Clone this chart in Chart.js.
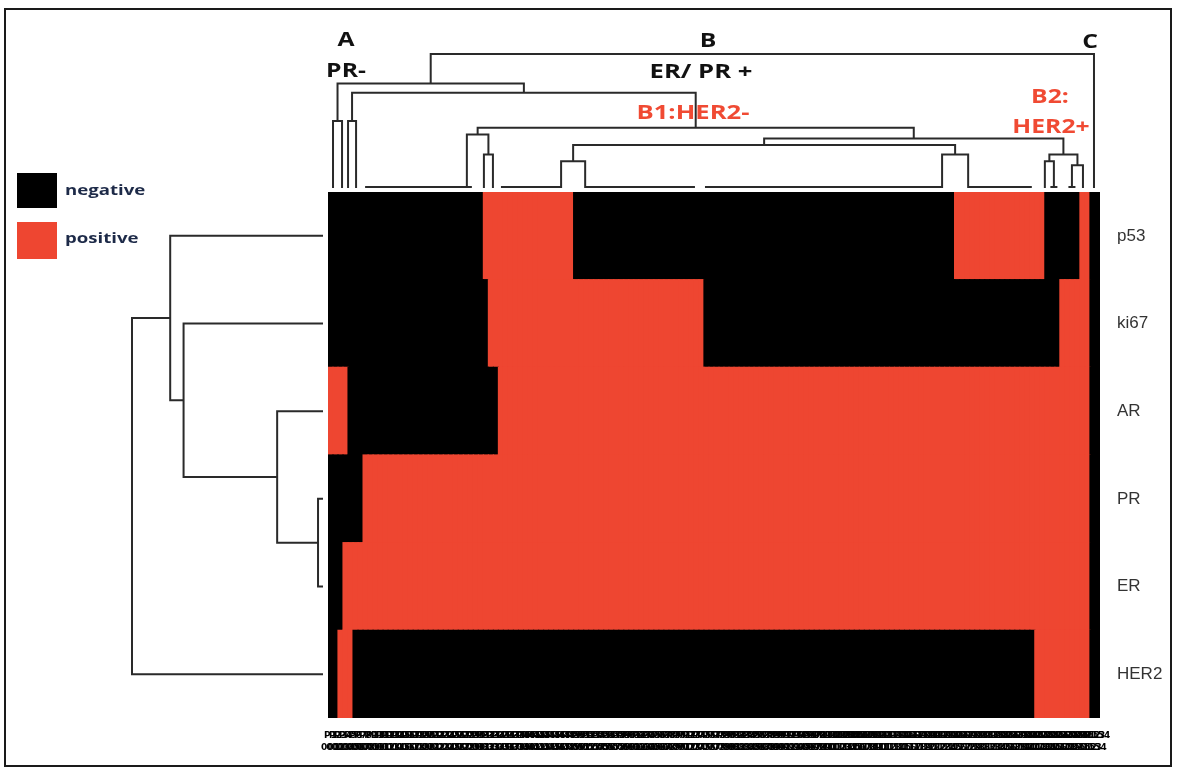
<!DOCTYPE html>
<html>
<head>
<meta charset="utf-8">
<title>Marker heatmap</title>
<style>
  html, body { margin: 0; padding: 0; background: #fff; }
  #wrap { width: 1177px; height: 771px; }
</style>
</head>
<body>
<div id="wrap"><canvas id="heat" width="1177" height="771"></canvas></div>
<script src="https://cdn.jsdelivr.net/npm/chart.js@4.4.1/dist/chart.umd.min.js"></script>
<script>
// ---- data: marker status per sample, as runs of [status, count] (0 = negative, 1 = positive)
const nSamples = 154;
const p53Runs  = [[0, 31], [1, 18], [0, 76], [1, 18], [0, 7], [1, 2], [0, 2]];
const ki67Runs = [[0, 32], [1, 43], [0, 71], [1, 6], [0, 2]];
const arRuns   = [[1, 4], [0, 30], [1, 118], [0, 2]];
const prRuns   = [[0, 7], [1, 145], [0, 2]];
const erRuns   = [[0, 3], [1, 149], [0, 2]];
const her2Runs = [[0, 2], [1, 3], [0, 136], [1, 11], [0, 2]];

// rows from bottom to top (stack order)
const markers = ["HER2", "ER", "PR", "AR", "ki67", "p53"];
const markerRuns = [her2Runs, erRuns, prRuns, arRuns, ki67Runs, p53Runs];

const sampleIds = Array.from({ length: nSamples }, (_, i) => i + 1);
const sampleLabels = sampleIds.map(n => ["P" + n, String(n).padStart(3, "0")]);

// column dendrogram: leaves / flat groups (x in column units), then merges [a, b, height]
const colNodes = [
    { x: 0.5 }, { x: 2.3 }, { x: 3.5 }, { x: 5.1 },
    { x: 27.2, from: 6.9, to: 28.2 },
    { x: 30.6 }, { x: 32.4 },
    { x: 46.0, from: 34.0, to: 46.0 },
    { x: 50.8, from: 50.8, to: 72.7 },
    { x: 122.0, from: 74.7, to: 122.0 },
    { x: 127.2, from: 127.2, to: 139.9 },
    { x: 142.5 },
    { x: 144.3, from: 143.6, to: 145.0 },
    { x: 147.9, from: 147.2, to: 148.6 },
    { x: 150.1 },
    { x: 152.3 }
];
const colMerges = [
    [0, 1, 0.50],    // 16
    [2, 3, 0.50],    // 17
    [5, 6, 0.25],    // 18
    [4, 18, 0.40],   // 19
    [7, 8, 0.20],    // 20
    [9, 10, 0.25],   // 21
    [20, 21, 0.32],  // 22
    [11, 12, 0.20],  // 23
    [13, 14, 0.17],  // 24
    [23, 24, 0.25],  // 25
    [22, 25, 0.37],  // 26
    [19, 26, 0.45],  // 27
    [17, 27, 0.71],  // 28
    [16, 28, 0.78],  // 29
    [29, 15, 1.00]   // 30
];

// row dendrogram: leaves are the marker rows (stack index), merges [a, b, height]
const rowMerges = [
    [1, 2, 0.026],   // ER + PR
    [3, 6, 0.24],    // AR
    [4, 7, 0.73],    // ki67
    [5, 8, 0.80],    // p53
    [0, 9, 1.00]     // HER2
];

const NEG = "#000000";
const POS = "#ee4631";
const LINE = "#2a2a2a";

function expand(runs) {
    const out = [];
    runs.forEach(([v, n]) => { for (let i = 0; i < n; i++) out.push(v); });
    return out;
}

// ---------------------------------------------------
// DENDROGRAM HELPERS
// ---------------------------------------------------
function buildTree(leafPos, merges) {
    const pos = leafPos.slice();
    const h = leafPos.map(() => 0);
    merges.forEach(([a, b, hh]) => {
        pos.push((pos[a] + pos[b]) / 2);
        h.push(hh);
    });
    return { pos, h };
}

function drawTree(ctx, tree, merges, toPx) {
    merges.forEach(([a, b, hh]) => {
        const p = toPx(tree.pos[a], tree.h[a]);
        const q = toPx(tree.pos[b], tree.h[b]);
        const pm = toPx(tree.pos[a], hh);
        const qm = toPx(tree.pos[b], hh);
        ctx.beginPath();
        ctx.moveTo(p[0], p[1]);
        ctx.lineTo(pm[0], pm[1]);
        ctx.lineTo(qm[0], qm[1]);
        ctx.lineTo(q[0], q[1]);
        ctx.stroke();
    });
}

function stretchText(ctx, text, x, y, sx, color, font) {
    ctx.save();
    ctx.translate(x, y);
    ctx.scale(sx, 1);
    ctx.fillStyle = color;
    ctx.font = font;
    ctx.textAlign = "center";
    ctx.textBaseline = "middle";
    ctx.fillText(text, 0, 0);
    ctx.restore();
}

const extrasPlugin = {
    id: "extras",
    afterDraw(chart) {
        const ctx = chart.ctx;
        const area = chart.chartArea;
        const xs = chart.scales.x;
        const ys = chart.scales.y;

        ctx.save();
        ctx.strokeStyle = LINE;
        ctx.lineWidth = 2;
        ctx.lineCap = "butt";

        // column dendrogram
        const topBase = area.top - 4;
        const topSpan = 134;
        const colTree = buildTree(colNodes.map(n => n.x), colMerges);
        drawTree(ctx, colTree, colMerges, (v, h) => [xs.getPixelForValue(v), topBase - h * topSpan]);
        colNodes.forEach(n => {
            if (n.from === undefined) return;
            ctx.beginPath();
            ctx.moveTo(xs.getPixelForValue(n.from), topBase - 1);
            ctx.lineTo(xs.getPixelForValue(n.to), topBase - 1);
            ctx.stroke();
        });

        // row dendrogram
        const leftBase = area.left - 5;
        const leftSpan = 191;
        const rowTree = buildTree(markers.map((m, k) => k + 0.5), rowMerges);
        drawTree(ctx, rowTree, rowMerges, (v, h) => [leftBase - h * leftSpan, ys.getPixelForValue(v)]);
        ctx.restore();

        // cluster labels
        const bold = "bold 19px 'Open Sans'";
        stretchText(ctx, "A", 346, 41, 1.3, "#111", bold);
        stretchText(ctx, "PR-", 346, 72, 1.3, "#111", bold);
        stretchText(ctx, "B", 708, 42, 1.3, "#111", bold);
        stretchText(ctx, "ER/ PR +", 701, 73, 1.35, "#111", bold);
        stretchText(ctx, "C", 1090, 43, 1.3, "#111", bold);
        stretchText(ctx, "B1:HER2-", 693, 114, 1.35, "#f04a33", bold);
        stretchText(ctx, "B2:", 1050, 98, 1.3, "#f04a33", bold);
        stretchText(ctx, "HER2+", 1051, 128, 1.3, "#f04a33", bold);

        // legend
        ctx.fillStyle = NEG;
        ctx.fillRect(17, 173, 40, 35);
        ctx.fillStyle = POS;
        ctx.fillRect(17, 222, 40, 37);
        ctx.save();
        ctx.textAlign = "left";
        ctx.translate(65, 191);
        ctx.scale(1.24, 1);
        ctx.font = "bold 15px 'Open Sans'";
        ctx.fillStyle = "#1d2a48";
        ctx.textBaseline = "middle";
        ctx.fillText("negative", 0, 0);
        ctx.fillText("positive", 0, 48);
        ctx.restore();

        // frame
        ctx.save();
        ctx.strokeStyle = "#1a1a1a";
        ctx.lineWidth = 2;
        ctx.strokeRect(5, 9, 1166, 757);
        ctx.restore();
    }
};

// ---------------------------------------------------
// HEATMAP (stacked bars, one dataset per marker row)
// ---------------------------------------------------
const datasets = markers.map((m, k) => {
    const status = expand(markerRuns[k]);
    return {
        label: m,
        data: status.map(() => 1),
        backgroundColor: status.map(s => (s ? POS : NEG)),
        borderWidth: 0,
        inflateAmount: 0.6,
        barPercentage: 1,
        categoryPercentage: 1
    };
});

new Chart(document.getElementById("heat"), {
    type: "bar",
    data: { labels: sampleLabels, datasets },
    options: {
        responsive: false,
        animation: false,
        devicePixelRatio: 1,
        layout: { padding: { left: 328, right: 7, top: 192, bottom: 13 } },
        plugins: { legend: { display: false }, tooltip: { enabled: false } },
        scales: {
            x: {
                stacked: true,
                grid: { display: false },
                border: { display: false },
                ticks: {
                    autoSkip: false,
                    maxRotation: 0,
                    minRotation: 0,
                    padding: 3,
                    color: "#000",
                    font: { size: 9, weight: "bold", family: "DejaVu Sans", lineHeight: 1.4 }
                },
                afterFit: s => { s.height = 40; }
            },
            y: {
                stacked: true,
                position: "right",
                min: 0,
                max: 6,
                grid: { display: false },
                border: { display: false },
                afterBuildTicks: s => { s.ticks = markers.map((m, k) => ({ value: k + 0.5 })); },
                ticks: {
                    padding: 9,
                    color: "#333",
                    font: { size: 17, family: "Liberation Sans" },
                    callback: v => markers[Math.floor(v)]
                },
                afterFit: s => { s.width = 70; }
            }
        }
    },
    plugins: [extrasPlugin]
});
</script>
</body>
</html>
